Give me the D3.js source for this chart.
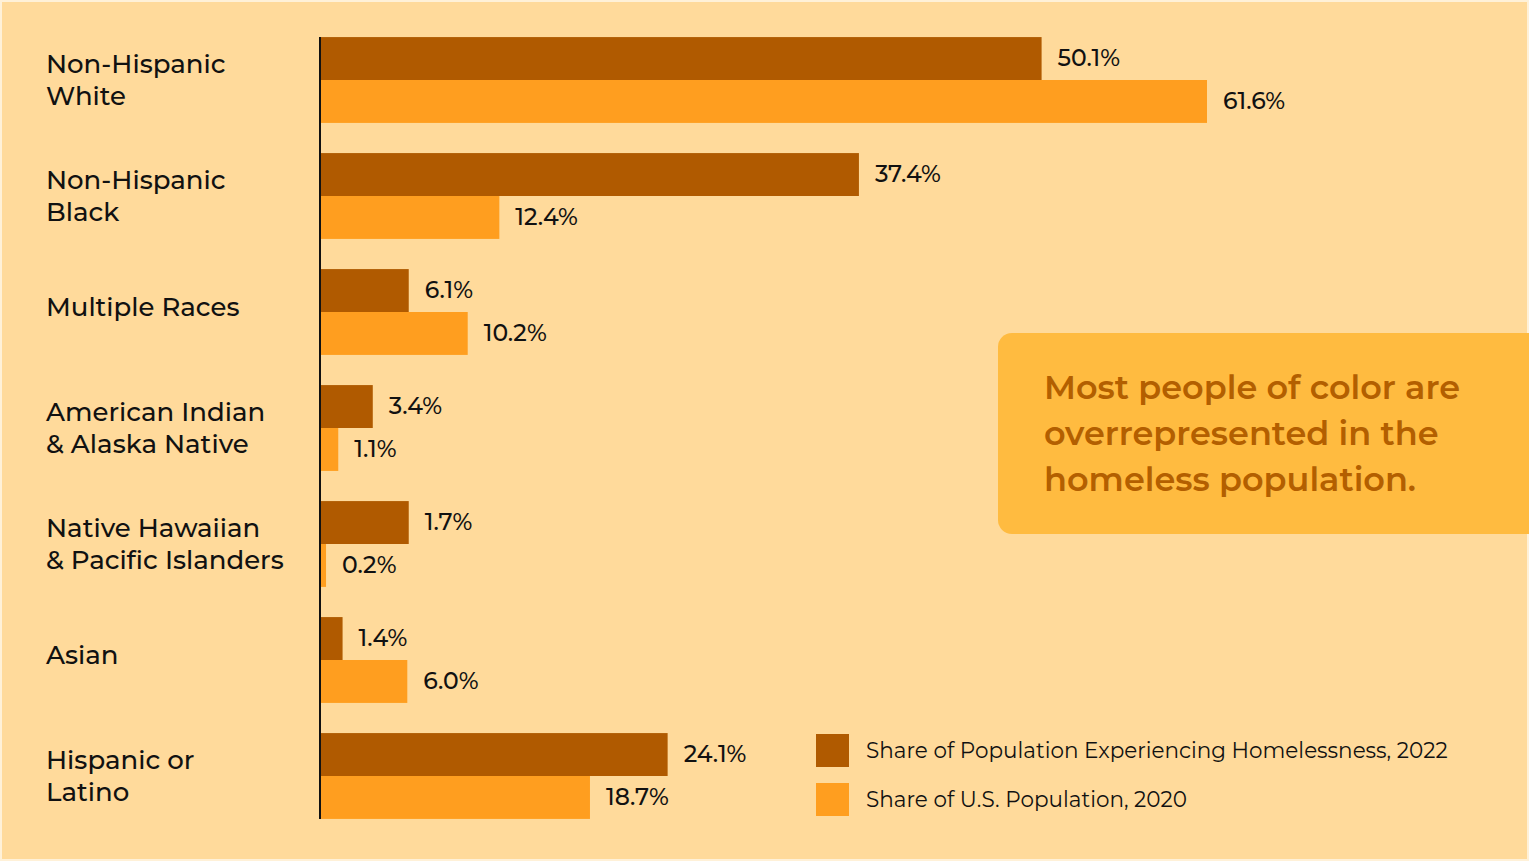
<!DOCTYPE html>
<html>
<head>
<meta charset="utf-8">
<script src="https://cdn.jsdelivr.net/npm/d3@7"></script>
<style>
  html, body { margin: 0; padding: 0; background: #fff1d8; overflow: hidden; }
  text { font-family: "Montserrat", "DejaVu Sans", sans-serif; }
</style>
</head>
<body>
<svg id="chart"></svg>
<script>
// categories, one line per entry in each label
const categories = [
  ['Non-Hispanic', 'White'],
  ['Non-Hispanic', 'Black'],
  ['Multiple Races'],
  ['American Indian', '& Alaska Native'],
  ['Native Hawaiian', '& Pacific Islanders'],
  ['Asian'],
  ['Hispanic or', 'Latino']
];

// values as printed on the labels
const homelessLabels = [50.1, 37.4, 6.1, 3.4, 1.7, 1.4, 24.1];
const populationLabels = [61.6, 12.4, 10.2, 1.1, 0.2, 6.0, 18.7];

// bar lengths as drawn in the picture (the 1.7% bar is drawn at about 6%)
const homelessBars = [50.1, 37.4, 6.1, 3.6, 6.1, 1.5, 24.1];
const populationBars = [61.6, 12.4, 10.2, 1.2, 0.35, 6.0, 18.7];

const seriesNames = ['Share of Population Experiencing Homelessness, 2022', 'Share of U.S. Population, 2020'];
const calloutLines = ['Most people of color are', 'overrepresented in the', 'homeless population.'];

const width = 1529, height = 861;
const colors = ['#b05a00', '#ff9e1f'];

const svg = d3.select('#chart')
  .attr('width', width)
  .attr('height', height);

// background with a thin lighter frame
svg.append('rect')
  .attr('x', 2).attr('y', 2)
  .attr('width', width - 4).attr('height', height - 4)
  .attr('fill', '#ffda9b');

const x = d3.scaleLinear()
  .domain([0, 61.6])
  .range([321, 1207]);

const y = d3.scaleBand()
  .domain(d3.range(categories.length))
  .range([22, 834])
  .paddingInner(0.26)
  .paddingOuter(0.13);

const sub = d3.scaleBand()
  .domain([0, 1])
  .range([0, y.bandwidth()]);

const rows = categories.map((c, i) => ({
  lines: c,
  bars: [homelessBars[i], populationBars[i]],
  labels: [homelessLabels[i], populationLabels[i]]
}));

// callout box (behind everything else)
const callout = svg.append('g');
callout.append('rect')
  .attr('x', 998).attr('y', 333)
  .attr('width', 560).attr('height', 201)
  .attr('rx', 14)
  .attr('fill', '#ffbb40');
callout.selectAll('text')
  .data(calloutLines)
  .enter()
  .append('text')
  .attr('x', 1044)
  .attr('y', (d, i) => 399 + i * 46)
  .attr('fill', '#b35f00')
  .attr('font-size', 33.5)
  .attr('font-weight', 600)
  .text(d => d);

const groups = svg.selectAll('.grp')
  .data(rows)
  .enter()
  .append('g')
  .attr('class', 'grp')
  .attr('transform', (d, i) => `translate(0,${y(i)})`);

groups.selectAll('rect')
  .data(d => d.bars)
  .enter()
  .append('rect')
  .attr('x', x(0))
  .attr('y', (d, j) => sub(j))
  .attr('width', d => x(d) - x(0))
  .attr('height', sub.bandwidth())
  .attr('fill', (d, j) => colors[j]);

groups.selectAll('.val')
  .data(d => d.bars.map((b, j) => ({ b, lab: d.labels[j], j })))
  .enter()
  .append('text')
  .attr('class', 'val')
  .attr('x', d => x(d.b) + 16)
  .attr('y', d => sub(d.j) + sub.bandwidth() / 2)
  .attr('dy', '0.33em')
  .attr('font-size', 23.5)
  .attr('font-weight', 500)
  .attr('fill', '#111')
  .text(d => d.lab.toFixed(1) + '%');

// category labels
groups.append('text')
  .attr('x', 46)
  .attr('font-size', 26)
  .attr('font-weight', 500)
  .attr('fill', '#111')
  .selectAll('tspan')
  .data(d => d.lines.map((t, k) => ({ t, k, n: d.lines.length })))
  .enter()
  .append('tspan')
  .attr('x', 46)
  .attr('y', d => y.bandwidth() / 2 + (d.k - (d.n - 1) / 2) * 32 - (d.n === 1 ? 5 : 0))
  .attr('dy', '0.34em')
  .text(d => d.t);

// axis line
svg.append('line')
  .attr('x1', 320).attr('x2', 320)
  .attr('y1', y(0)).attr('y2', y(categories.length - 1) + y.bandwidth())
  .attr('stroke', '#111')
  .attr('stroke-width', 2);

// legend
const legend = svg.append('g').attr('transform', 'translate(816,734)');
const leg = legend.selectAll('g')
  .data(seriesNames)
  .enter()
  .append('g')
  .attr('transform', (d, i) => `translate(0,${i * 49})`);
leg.append('rect')
  .attr('width', 33).attr('height', 33)
  .attr('fill', (d, i) => colors[i]);
leg.append('text')
  .attr('x', 50).attr('y', 16.5)
  .attr('dy', '0.34em')
  .attr('font-size', 21.5)
  .attr('fill', '#111')
  .text(d => d);
</script>
</body>
</html>
